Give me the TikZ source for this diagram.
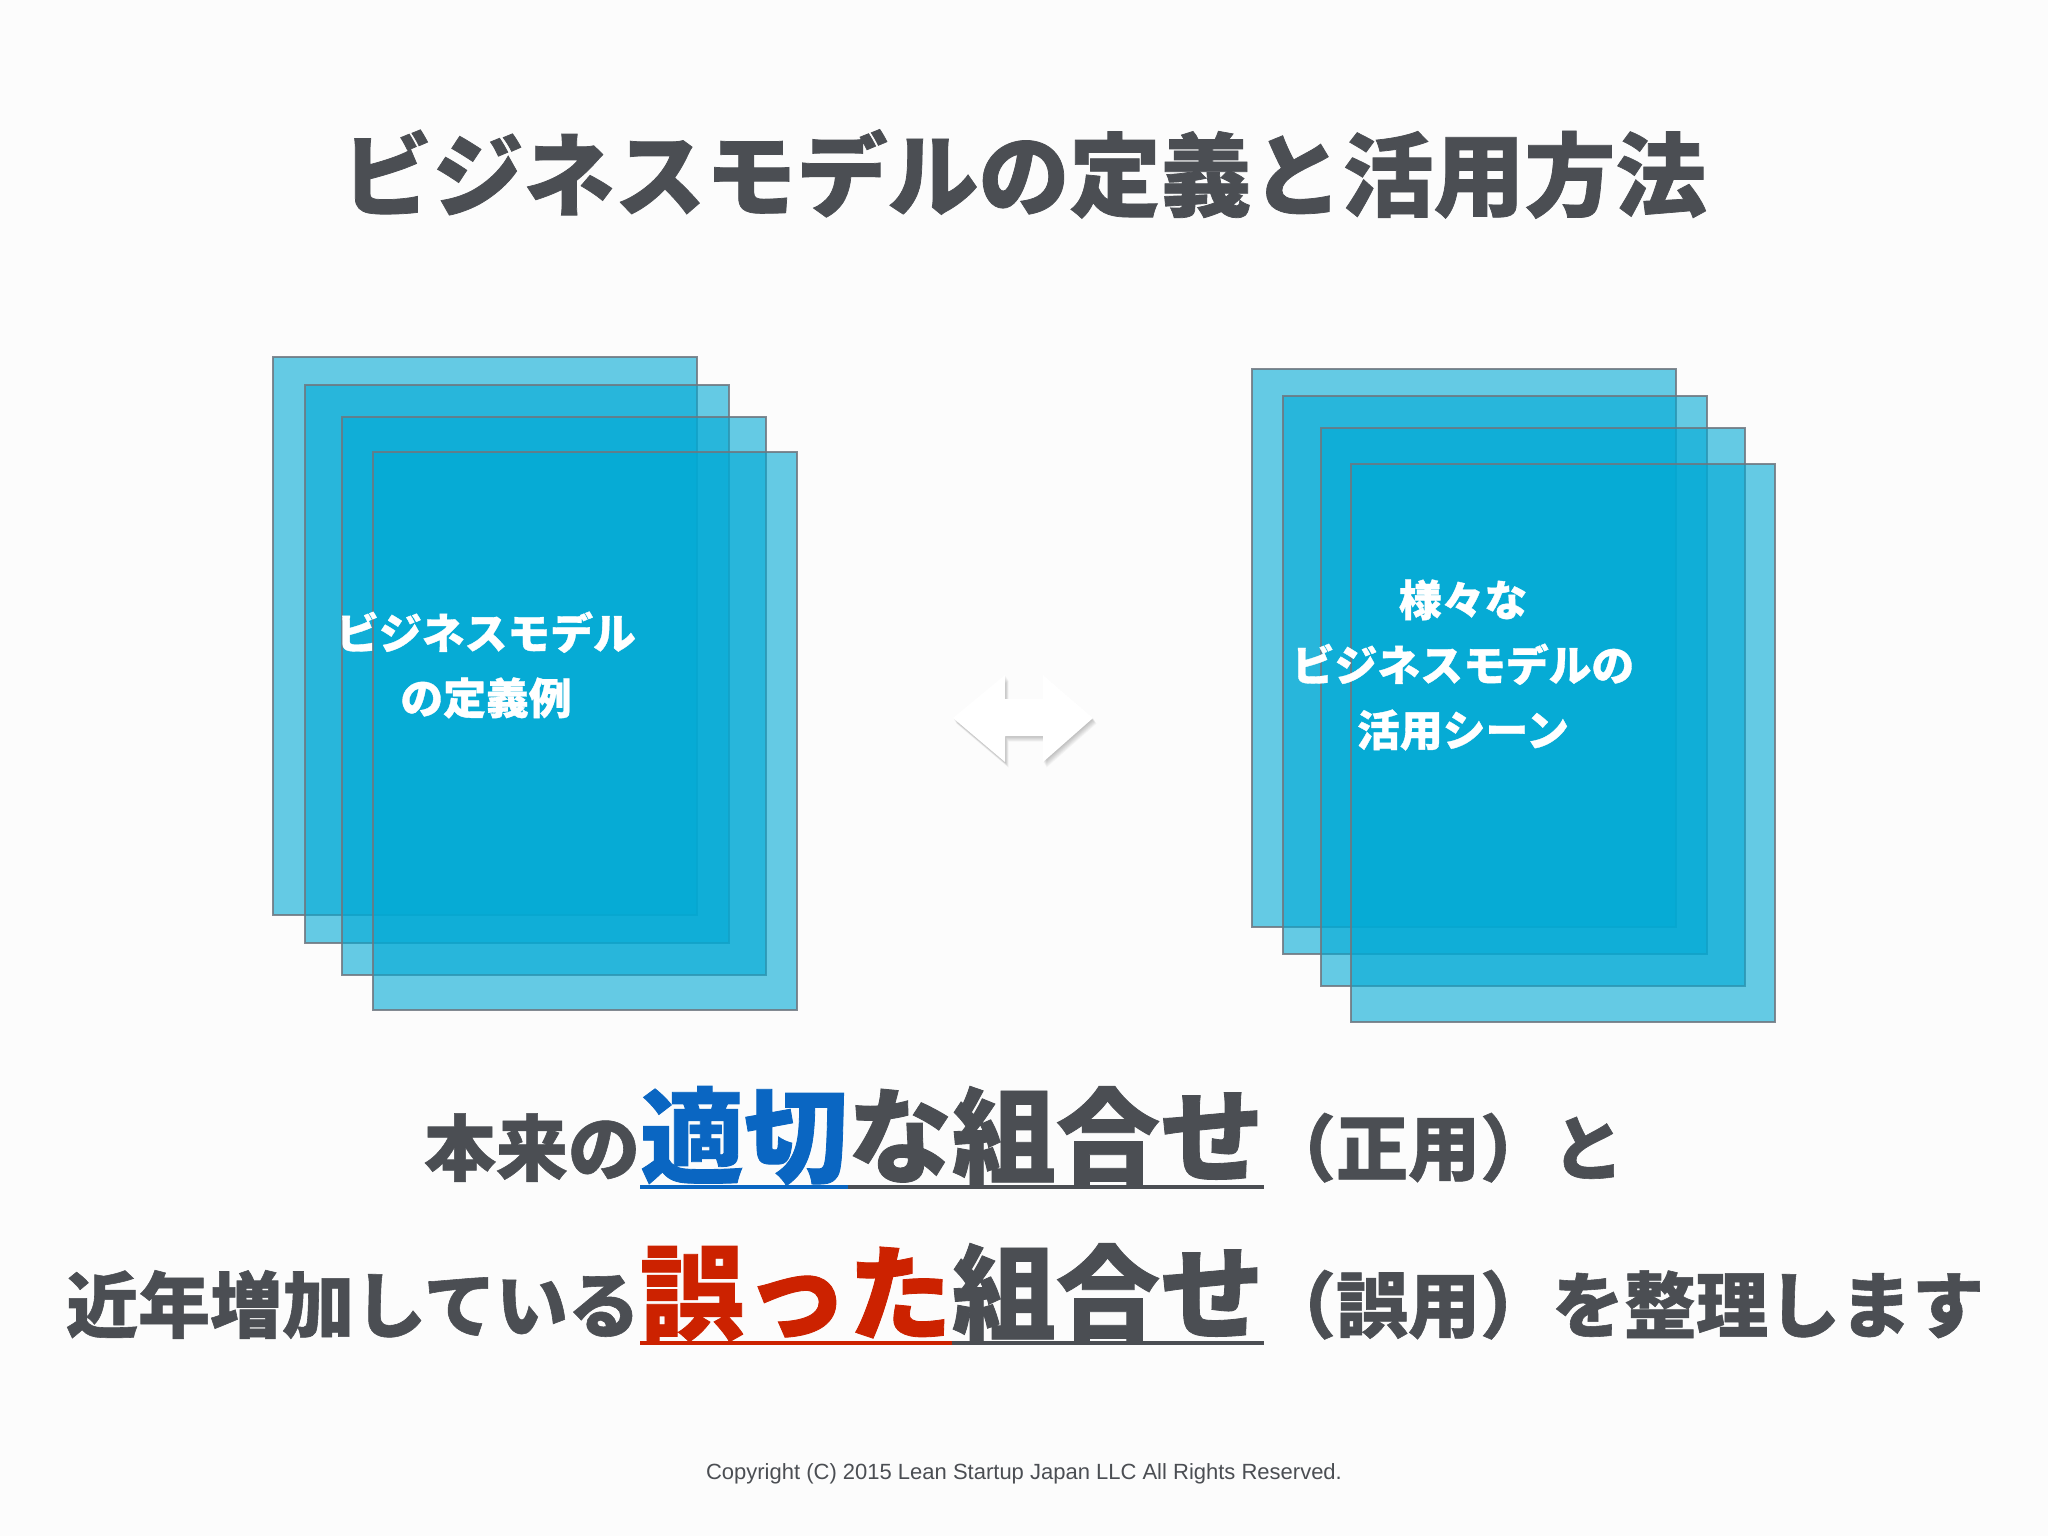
\documentclass[tikz,border=0pt]{standalone}
\usepackage{fontspec}
\newfontfamily\jp{Noto Sans CJK JP}[BoldFeatures={FakeBold=0.8}]
\newfontfamily\lat{Liberation Sans}
\usetikzlibrary{positioning}
\definecolor{inkgray}{HTML}{4B4E53}
\definecolor{okblue}{HTML}{0A66C2}
\definecolor{ngred}{HTML}{CC2200}
\definecolor{sheetblue}{HTML}{00AAD5}
\definecolor{sheetedge}{HTML}{6E7780}
\tikzset{
  sheet/.style={fill=sheetblue, fill opacity=0.6, draw=sheetedge, draw opacity=0.85, line width=1pt},
  word/.style={inner sep=0pt, outer sep=0pt},
  big/.style={word, font=\jp\bfseries\fontsize{52}{60}\selectfont},
  small/.style={word, text=inkgray, font=\jp\bfseries\fontsize{36}{40}\selectfont},
  boxtext/.style={word, align=center, text=white, font=\jp\bfseries\fontsize{21.4}{32.5}\selectfont},
  uline/.style={line width=2pt},
}
\begin{document}
\begin{tikzpicture}[x=0.5pt,y=-0.5pt]

  \fill[white!98!gray] (0,0) rectangle (2048,1536);
  \useasboundingbox (0,0) rectangle (2048,1536);

  % title
  \node[word, text=inkgray, font=\jp\bfseries\fontsize{45.5}{50}\selectfont] (title) at (1024,174) {ビジネスモデルの定義と活用方法};

  % sheets
  \foreach \dx/\dy in {0/0,32/28,69/60,100/95}
    \draw[sheet] (273+\dx,357+\dy) rectangle ++(424,558);
  \node[boxtext] (defn) at (486,665) {ビジネスモデル\\の定義例};

  \foreach \dx/\dy in {0/0,31/27,69/59,99/95}
    \draw[sheet] (1252+\dx,369+\dy) rectangle ++(424,558);
  \node[boxtext] (scene) at (1463,665) {様々な\\ビジネスモデルの\\活用シーン};

  % double arrow, soft shadow first
  \foreach \s in {1,...,7}
    \fill[black, opacity=0.035, shift={(0.5*\s,0.8*\s)}]
      (953,718) -- (1005,675) -- (1005,699) -- (1043,699) -- (1043,675) -- (1093,718)
      -- (1043,762) -- (1043,736) -- (1005,736) -- (1005,762) -- cycle;
  \fill[white]
    (953,718) -- (1005,675) -- (1005,699) -- (1043,699) -- (1043,675) -- (1093,718)
    -- (1043,762) -- (1043,736) -- (1005,736) -- (1005,762) -- cycle;

  % first line
  \node[big, text=okblue, anchor=base west] (tekisetsu) at (640,1175) {適切};
  \node[big, text=inkgray, base right=0pt of tekisetsu] (kumi1) {な組合せ};
  \node[small, base left=0pt of tekisetsu] (honrai) {本来の};
  \node[small, base right=0pt of kumi1] (seiyo) {（正用）};
  \node[small, base right=0pt of seiyo] (to) {と};
  \draw[uline, okblue] ([yshift=-6pt]tekisetsu.base west) -- ([yshift=-6pt]tekisetsu.base east);
  \draw[uline, inkgray] ([yshift=-6pt]tekisetsu.base east) -- ([yshift=-6pt]kumi1.base east);

  % second line
  \node[big, text=ngred, anchor=base west] (ayamatta) at (640,1332) {誤った};
  \node[big, text=inkgray, base right=0pt of ayamatta] (kumi2) {組合せ};
  \node[small, base left=0pt of ayamatta] (kinnen) {近年増加している};
  \node[small, base right=0pt of kumi2] (goyo) {（誤用）};
  \node[small, base right=0pt of goyo] (seiri) {を整理します};
  \draw[uline, ngred] ([yshift=-5.5pt]ayamatta.base west) -- ([yshift=-5.5pt]ayamatta.base east);
  \draw[uline, inkgray] ([yshift=-5.5pt]ayamatta.base east) -- ([yshift=-5.5pt]kumi2.base east);

  \node[word, text=inkgray, font=\lat\fontsize{11}{13}\selectfont] (copyright) at (1024,1474) {Copyright (C) 2015 Lean Startup Japan LLC All Rights Reserved.};

\end{tikzpicture}
\end{document}
